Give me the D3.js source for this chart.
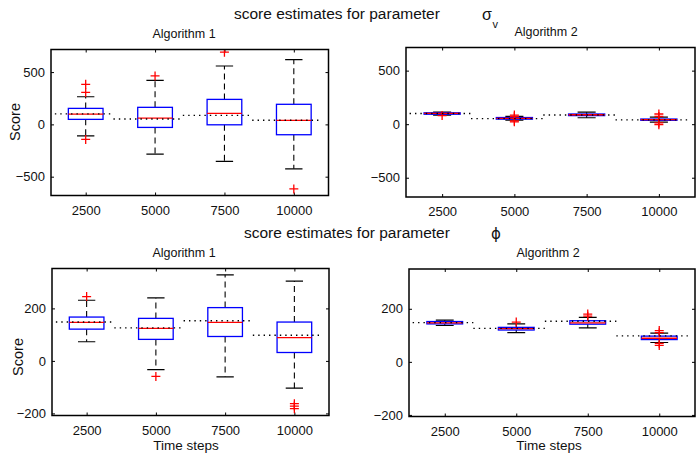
<!DOCTYPE html>
<html>
<head>
<meta charset="utf-8">
<script src="https://cdn.jsdelivr.net/npm/d3@7"></script>
<style>
  html, body { margin: 0; padding: 0; background: #fff; }
  svg { display: block; font-family: "Liberation Sans", Arial, sans-serif; }
</style>
</head>
<body>
<svg id="chart" width="696" height="453"></svg>
<script>
// Time-step categories shared by every panel
const timeSteps = ["2500", "5000", "7500", "10000"];

// sigma_v, Algorithm 1
const sigmaA1Q1 = [48, -29, -4, -99];
const sigmaA1Median = [99, 60, 105, 38];
const sigmaA1Q3 = [153, 163, 239, 192];
const sigmaA1WhiskerLow = [-109, -284, -354, -425];
const sigmaA1WhiskerHigh = [264, 421, 558, 619];
const sigmaA1Outliers = [[383, 306, -144], [463], [690], [-617]];

// sigma_v, Algorithm 2
const sigmaA2Q1 = [93, 47, 80, 36];
const sigmaA2Median = [100, 55, 88, 42];
const sigmaA2Q3 = [106, 62, 95, 48];
const sigmaA2WhiskerLow = [85, 38, 60, 19];
const sigmaA2WhiskerHigh = [113, 72, 112, 65];
const sigmaA2Outliers = [[80], [85, 70, 30, 22], [], [95, 72, 12, -5]];

// true sigma_v per time step
const sigmaTrue = [100, 52, 86, 40];

// phi, Algorithm 1
const phiA1Q1 = [121, 82, 93, 32];
const phiA1Median = [147, 124, 147, 89];
const phiA1Q3 = [167, 162, 203, 148];
const phiA1WhiskerLow = [73, -33, -61, -104];
const phiA1WhiskerHigh = [231, 240, 328, 304];
const phiA1Outliers = [[245], [-59], [], [-163, -172, -182]];

// phi, Algorithm 2
const phiA2Q1 = [143, 120, 142, 84];
const phiA2Median = [147, 125, 147, 89];
const phiA2Q3 = [152, 130, 155, 97];
const phiA2WhiskerLow = [137, 110, 128, 73];
const phiA2WhiskerHigh = [157, 143, 168, 108];
const phiA2Outliers = [[], [150], [172, 180], [118, 110, 70, 62]];

// true phi per time step
const phiTrue = [148, 126, 153, 98];

// y-axis tick values
const sigmaTicks = [-500, 0, 500];
const phiTicks = [-200, 0, 200];

const svg = d3.select("#chart");
svg.append("rect").attr("width", 696).attr("height", 453).attr("fill", "#fff");

const panels = [
  { x0: 51, x1: 328.5, y0: 49.5, y1: 195.5, domain: [-680, 716], ticks: sigmaTicks,
    q1: sigmaA1Q1, med: sigmaA1Median, q3: sigmaA1Q3, lo: sigmaA1WhiskerLow, hi: sigmaA1WhiskerHigh,
    out: sigmaA1Outliers, truth: sigmaTrue, name: "Algorithm 1", nameX: 184, nameY: 37.5,
    yLabel: { x: 20, y: 122 }, xLabel: null },
  { x0: 406, x1: 695, y0: 47.5, y1: 197, domain: [-680, 716], ticks: sigmaTicks,
    q1: sigmaA2Q1, med: sigmaA2Median, q3: sigmaA2Q3, lo: sigmaA2WhiskerLow, hi: sigmaA2WhiskerHigh,
    out: sigmaA2Outliers, truth: sigmaTrue, name: "Algorithm 2", nameX: 546, nameY: 36,
    yLabel: null, xLabel: null },
  { x0: 52, x1: 329, y0: 268.5, y1: 415.5, domain: [-208, 352], ticks: phiTicks,
    q1: phiA1Q1, med: phiA1Median, q3: phiA1Q3, lo: phiA1WhiskerLow, hi: phiA1WhiskerHigh,
    out: phiA1Outliers, truth: phiTrue, name: "Algorithm 1", nameX: 184, nameY: 257,
    yLabel: { x: 22.5, y: 357 }, xLabel: { x: 186, y: 449.5 } },
  { x0: 409, x1: 695, y0: 269, y1: 416.5, domain: [-206, 350], ticks: phiTicks,
    q1: phiA2Q1, med: phiA2Median, q3: phiA2Q3, lo: phiA2WhiskerLow, hi: phiA2WhiskerHigh,
    out: phiA2Outliers, truth: phiTrue, name: "Algorithm 2", nameX: 548, nameY: 256.5,
    yLabel: null, xLabel: { x: 549, y: 450 } }
];

panels.forEach((p, idx) => {
  const x = d3.scalePoint().domain(timeSteps).range([p.x0, p.x1]).padding(0.5);
  const y = d3.scaleLinear().domain(p.domain).range([p.y1, p.y0]);
  const step = x.step();
  const g = svg.append("g");

  const clipId = "clip" + idx;
  svg.append("clipPath").attr("id", clipId)
    .append("rect").attr("x", p.x0).attr("y", p.y0)
    .attr("width", p.x1 - p.x0).attr("height", p.y1 - p.y0);

  // axes with inward ticks on all four sides
  const styleAxis = sel => {
    sel.select(".domain").remove();
    sel.selectAll("line").attr("stroke", "#000").attr("stroke-width", 1);
    sel.selectAll("text").attr("font-size", 13).attr("fill", "#111")
      .attr("font-family", "Liberation Sans, Arial, sans-serif");
  };
  g.append("g").attr("transform", `translate(${p.x0},0)`)
    .call(d3.axisLeft(y).tickValues(p.ticks).tickSizeInner(-3).tickSizeOuter(0).tickPadding(6))
    .call(styleAxis);
  g.append("g").attr("transform", `translate(${p.x1},0)`)
    .call(d3.axisRight(y).tickValues(p.ticks).tickSizeInner(-3).tickSizeOuter(0).tickFormat(""))
    .call(styleAxis);
  g.append("g").attr("transform", `translate(0,${p.y1})`)
    .call(d3.axisBottom(x).tickSizeInner(-3).tickSizeOuter(0).tickPadding(10))
    .call(styleAxis);
  g.append("g").attr("transform", `translate(0,${p.y0})`)
    .call(d3.axisTop(x).tickSizeInner(-3).tickSizeOuter(0).tickFormat(""))
    .call(styleAxis);

  const plot = g.append("g").attr("clip-path", `url(#${clipId})`);

  timeSteps.forEach((t, i) => {
    const cx = x(t);
    const bw = step * 0.25;
    const cw = step * 0.125;
    // whiskers (dashed) and caps
    plot.append("line").attr("x1", cx).attr("x2", cx)
      .attr("y1", y(p.q3[i])).attr("y2", y(p.hi[i]))
      .attr("stroke", "#000").attr("stroke-width", 1.1).attr("stroke-dasharray", "6,4");
    plot.append("line").attr("x1", cx).attr("x2", cx)
      .attr("y1", y(p.q1[i])).attr("y2", y(p.lo[i]))
      .attr("stroke", "#000").attr("stroke-width", 1.1).attr("stroke-dasharray", "6,4");
    [p.hi[i], p.lo[i]].forEach(v => {
      plot.append("line").attr("x1", cx - cw).attr("x2", cx + cw)
        .attr("y1", y(v)).attr("y2", y(v))
        .attr("stroke", "#000").attr("stroke-width", 1.2);
    });
    // box
    plot.append("rect").attr("x", cx - bw).attr("width", 2 * bw)
      .attr("y", y(p.q3[i])).attr("height", y(p.q1[i]) - y(p.q3[i]))
      .attr("fill", "none").attr("stroke", "#0000ff").attr("stroke-width", 1.3);
    // median
    plot.append("line").attr("x1", cx - bw).attr("x2", cx + bw)
      .attr("y1", y(p.med[i])).attr("y2", y(p.med[i]))
      .attr("stroke", "#ff0000").attr("stroke-width", 1.3);
    // outliers
    p.out[i].forEach(v => {
      plot.append("path").attr("transform", `translate(${cx},${y(v)})`)
        .attr("d", "M-4.5,0H4.5M0,-4.5V4.5")
        .attr("stroke", "#ff0000").attr("stroke-width", 1.3).attr("fill", "none");
    });
  });

  // true value as dotted segment across each time step
  timeSteps.forEach((t, i) => {
    const cx = x(t);
    plot.append("line")
      .attr("x1", cx - step * 0.6).attr("x2", cx + step * 0.4)
      .attr("y1", y(p.truth[i])).attr("y2", y(p.truth[i]))
      .attr("stroke", "#000").attr("stroke-width", 1.4).attr("stroke-dasharray", "1.4,4");
  });

  // frame
  g.append("rect").attr("x", p.x0).attr("y", p.y0)
    .attr("width", p.x1 - p.x0).attr("height", p.y1 - p.y0)
    .attr("fill", "none").attr("stroke", "#000").attr("stroke-width", 1.5);

  g.append("text").attr("x", p.nameX).attr("y", p.nameY)
    .attr("text-anchor", "middle").attr("font-size", 12.5).attr("fill", "#111")
    .text(p.name);

  if (p.yLabel) {
    g.append("text").attr("transform", `translate(${p.yLabel.x},${p.yLabel.y}) rotate(-90)`)
      .attr("text-anchor", "middle").attr("font-size", 14.5).attr("fill", "#111")
      .text("Score");
  }
  if (p.xLabel) {
    g.append("text").attr("x", p.xLabel.x).attr("y", p.xLabel.y)
      .attr("text-anchor", "middle").attr("font-size", 13.5).attr("fill", "#111")
      .text("Time steps");
  }
});

// figure titles
svg.append("text").attr("x", 234).attr("y", 18.5)
  .attr("font-size", 15.5).attr("fill", "#111")
  .text("score estimates for parameter");
const sig = svg.append("text").attr("x", 482).attr("y", 20)
  .attr("font-size", 16).attr("fill", "#111");
sig.append("tspan").text("σ");
sig.append("tspan").attr("x", 492.5).attr("y", 27.5).attr("font-size", 11).text("v");

svg.append("text").attr("x", 244).attr("y", 238)
  .attr("font-size", 15.5).attr("fill", "#111")
  .text("score estimates for parameter");
svg.append("text").attr("x", 491).attr("y", 238.5)
  .attr("font-size", 15).attr("fill", "#111")
  .attr("font-family", "DejaVu Sans, sans-serif")
  .text("ϕ");
</script>
</body>
</html>
